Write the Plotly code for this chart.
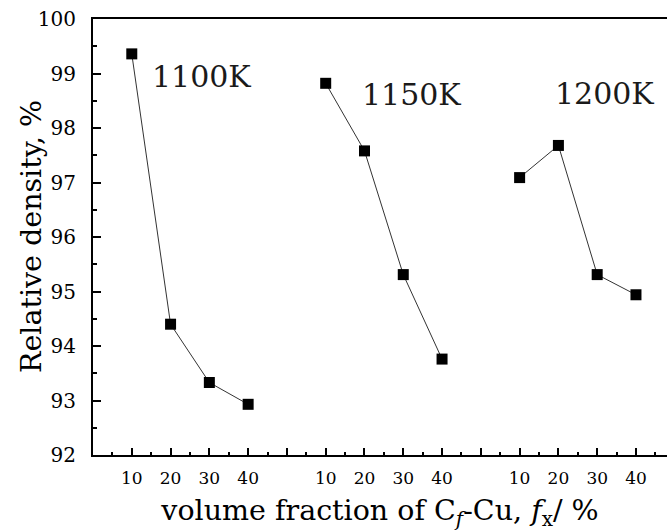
import plotly.graph_objects as go

# Relative density vs. Cf-Cu volume fraction at three sintering temperatures
temperatures = ["1100K", "1150K", "1200K"]
fractions = [10, 20, 30, 40]
density_1100 = [99.36, 94.40, 93.33, 92.93]
density_1150 = [98.82, 97.58, 95.31, 93.76]
density_1200 = [97.09, 97.68, 95.31, 94.94]
series = [density_1100, density_1150, density_1200]

# each temperature group occupies 4 slots on a shared axis, with one empty slot between groups
group_slots = [[1, 2, 3, 4], [6, 7, 8, 9], [11, 12, 13, 14]]

FONT = "DejaVu Serif"

fig = go.Figure()
for slots, vals in zip(group_slots, series):
    fig.add_trace(go.Scatter(
        x=slots, y=vals, mode="lines+markers",
        line=dict(color="#333333", width=1),
        marker=dict(symbol="square", size=11, color="black"),
        showlegend=False,
    ))

# temperature labels
label_pos = [(2.79, 98.95), (8.22, 98.62), (13.19, 98.63)]
for name, (lx, ly) in zip(temperatures, label_pos):
    fig.add_annotation(x=lx, y=ly, text=name, showarrow=False,
                       font=dict(family=FONT, size=30, color="#1a1a1a"))

# y-axis title placed as a rotated annotation for finer horizontal control
fig.add_annotation(xref="paper", yref="paper", x=0, y=0.5, xshift=-62,
                   text="Relative density, %", textangle=-90, showarrow=False,
                   xanchor="center", yanchor="middle",
                   font=dict(family=FONT, size=28.5, color="black"))

tick_vals = list(range(0, 15))
tick_text = [""] * 15
for slots in group_slots:
    for s, f in zip(slots, fractions):
        tick_text[s] = str(f)

fig.update_layout(
    width=667, height=531,
    margin=dict(l=93, r=0, t=19, b=76),
    paper_bgcolor="white", plot_bgcolor="white",
    font=dict(family=FONT, color="black"),
    xaxis=dict(
        range=[0, 14.8], tickmode="array", tickvals=tick_vals, ticktext=tick_text,
        ticks="inside", ticklen=7, tickwidth=1.5, tickcolor="black",
        minor=dict(ticks="inside", ticklen=3, tickwidth=1.5, tickcolor="black", dtick=0.5, tick0=0.5),
        showline=True, linecolor="black", linewidth=2, mirror=True,
        showgrid=False, zeroline=False,
        tickfont=dict(family=FONT, size=17, color="black"),
        ticklabelstandoff=7,
        title=dict(text="volume fraction of C<sub><i>f</i></sub>-Cu, <i>f</i><sub>x</sub>/ %",
                   font=dict(family=FONT, size=28.5, color="black"), standoff=13),
    ),
    yaxis=dict(
        range=[92, 100], dtick=1, tick0=92,
        ticks="inside", ticklen=8, tickwidth=1.5, tickcolor="black",
        minor=dict(ticks="inside", ticklen=4, tickwidth=1.5, tickcolor="black", dtick=0.5),
        showline=True, linecolor="black", linewidth=2, mirror=False,
        showgrid=False, zeroline=False,
        tickfont=dict(family=FONT, size=20, color="black"),
        ticklabelstandoff=11,
    ),
)

fig.write_html("out.html")
